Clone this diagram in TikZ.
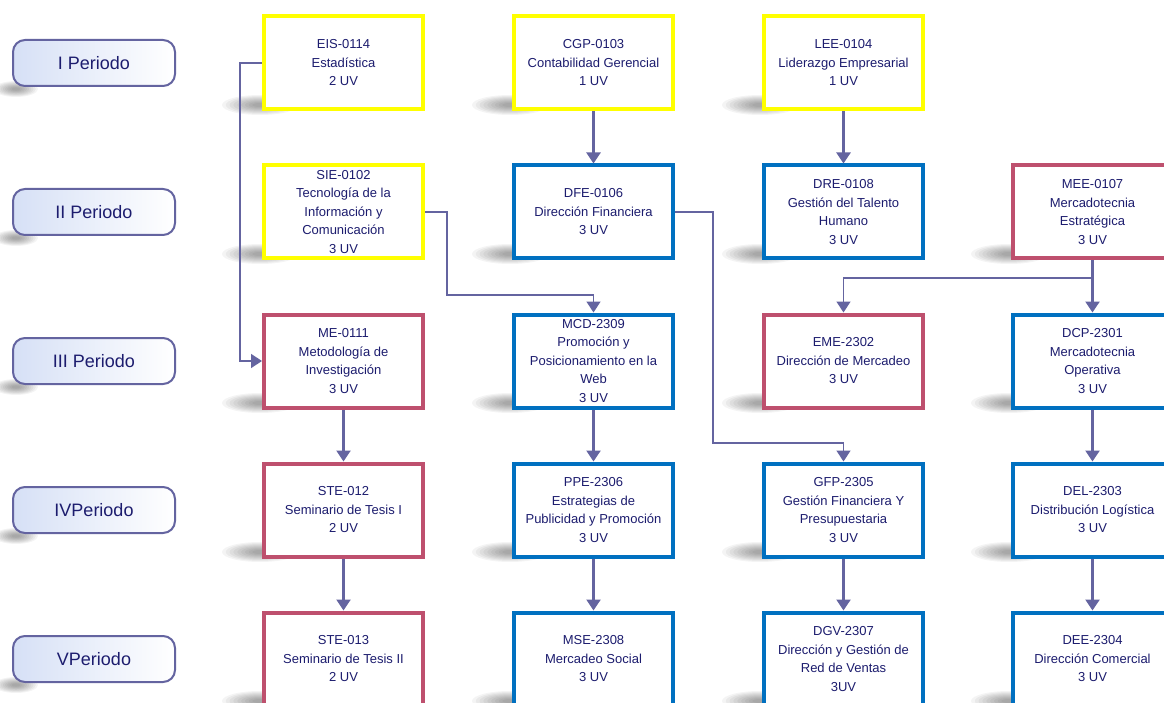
\documentclass[tikz,border=0pt]{standalone}
\usepackage{fontspec}
\setmainfont{Liberation Sans}
\usetikzlibrary{arrows.meta}
\definecolor{txt}{RGB}{28,28,110}
\definecolor{conn}{RGB}{100,100,160}
\definecolor{yel}{RGB}{255,255,0}
\definecolor{blu}{RGB}{0,112,192}
\definecolor{crim}{RGB}{190,80,110}
\definecolor{pillfill}{RGB}{214,224,246}
\tikzset{
  course/.style={draw, line width=4pt, fill=white, minimum width=159pt, minimum height=93pt,
    align=center, text=txt, font=\fontsize{13}{18.5}\selectfont, inner sep=0pt},
  yc/.style={course, draw=yel},
  bc/.style={course, draw=blu},
  rc/.style={course, draw=crim},
  pill/.style={draw=conn, line width=2pt, rounded corners=12pt, left color=pillfill, right color=white,
    minimum width=162pt, minimum height=46pt, text=txt, font=\fontsize{18}{20}\selectfont, inner sep=0pt},
  link/.style={draw=conn, line width=2.4pt, -{Triangle[width=14pt,length=11pt]}},
  thinlink/.style={draw=conn, line width=1.4pt, -{Triangle[width=14pt,length=11pt]}},
}
\newcommand{\softshadow}[4]{% x, y, rx, ry
  \foreach \s in {1.0,0.9,0.8,0.7,0.6,0.5,0.4,0.3,0.2}{
    \fill[black, opacity=0.045] (#1,#2) ellipse ({#3*\s} and {#4*\s});
  }}
\begin{document}
\begin{tikzpicture}[x=1pt,y=-1pt]
\useasboundingbox (0,0) rectangle (1164,703);
\fill[white] (0,0) rectangle (1164,703);
% shadows
\foreach \r in {63,212,361,510,659}{
  \softshadow{16}{\r+26}{22}{8}
  \foreach \c in {262,512,762}{
    \softshadow{\c-2}{\r+42}{38}{10}
  }
}
\foreach \r in {212,361,510,659}{
  \softshadow{1009}{\r+42}{38}{10}
}
% period pills
\node[pill] (p1) at (94,63) {I Periodo};
\node[pill] (p2) at (94,212) {II Periodo};
\node[pill] (p3) at (94,361) {III Periodo};
\node[pill] (p4) at (94,510) {IVPeriodo};
\node[pill] (p5) at (94,659) {VPeriodo};
% row 1
\node[yc] (eis) at (343.5,63) {EIS-0114\\Estadística\\2 UV};
\node[yc] (cgp) at (593.5,63) {CGP-0103\\Contabilidad Gerencial\\1 UV};
\node[yc] (lee) at (843.5,63) {LEE-0104\\Liderazgo Empresarial\\1 UV};
% row 2
\node[yc] (sie) at (343.5,212) {SIE-0102\\Tecnología de la\\Información y\\Comunicación\\3 UV};
\node[bc] (dfe) at (593.5,212) {DFE-0106\\Dirección Financiera\\3 UV};
\node[bc] (dre) at (843.5,212) {DRE-0108\\Gestión del Talento\\Humano\\3 UV};
\node[rc] (mee) at (1092.5,212) {MEE-0107\\Mercadotecnia\\Estratégica\\3 UV};
% row 3
\node[rc] (me) at (343.5,361) {ME-0111\\Metodología de\\Investigación\\3 UV};
\node[bc] (mcd) at (593.5,361) {MCD-2309\\Promoción y\\Posicionamiento en la\\Web\\3 UV};
\node[rc] (eme) at (843.5,361) {EME-2302\\Dirección de Mercadeo\\3 UV};
\node[bc] (dcp) at (1092.5,361) {DCP-2301\\Mercadotecnia\\Operativa\\3 UV};
% row 4
\node[rc] (ste1) at (343.5,510) {STE-012\\Seminario de Tesis I\\2 UV};
\node[bc] (ppe) at (593.5,510) {PPE-2306\\Estrategias de\\Publicidad y Promoción\\3 UV};
\node[bc] (gfp) at (843.5,510) {GFP-2305\\Gestión Financiera Y\\Presupuestaria\\3 UV};
\node[bc] (del) at (1092.5,510) {DEL-2303\\Distribución Logística\\3 UV};
% row 5
\node[rc] (ste2) at (343.5,659) {STE-013\\Seminario de Tesis II\\2 UV};
\node[bc] (mse) at (593.5,659) {MSE-2308\\Mercadeo Social\\3 UV};
\node[bc] (dgv) at (843.5,659) {DGV-2307\\Dirección y Gestión de\\Red de Ventas\\3UV};
\node[bc] (dee) at (1092.5,659) {DEE-2304\\Dirección Comercial\\3 UV};
% connectors
\coordinate (b1) at (240,63);
\coordinate (b2) at (447,212);
\coordinate (b3) at (447,295);
\coordinate (b4) at (713,212);
\coordinate (b5) at (713,443);
\coordinate (b6) at (1092.5,278);
\draw[thinlink] (eis.west) -- (b1) |- (me.west);
\draw[thinlink] (sie.east) -- (b2) -- (b3) -| (mcd.north);
\draw[thinlink] (dfe.east) -- (b4) -- (b5) -| (gfp.north);
\draw[thinlink] (b6) -| (eme.north);
\draw[link] (mee.south) -- (dcp.north);
\draw[link] (cgp.south) -- (dfe.north);
\draw[link] (lee.south) -- (dre.north);
\draw[link] (me.south) -- (ste1.north);
\draw[link] (ste1.south) -- (ste2.north);
\draw[link] (mcd.south) -- (ppe.north);
\draw[link] (ppe.south) -- (mse.north);
\draw[link] (gfp.south) -- (dgv.north);
\draw[link] (dcp.south) -- (del.north);
\draw[link] (del.south) -- (dee.north);
\end{tikzpicture}
\end{document}
